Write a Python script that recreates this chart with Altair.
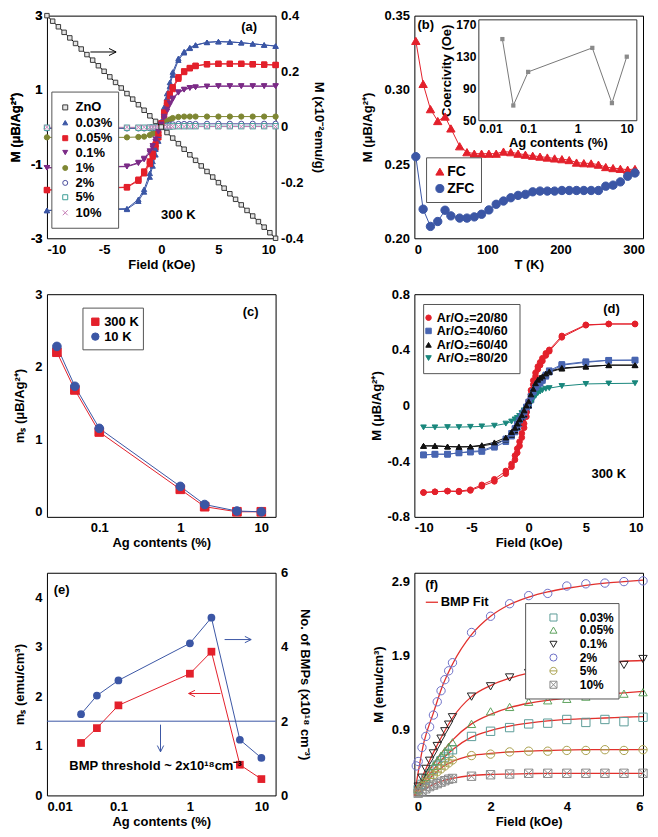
import altair as alt
import pandas as pd

FONT = "Liberation Sans"
W, H = 229, 223

RED = "#e3202b"
BLUE = "#3b56a5"
PURPLE = "#7b2b87"
OLIVE = "#7e8733"
NAVY = "#4c4f9e"
TEAL = "#3d9e96"
PINK = "#c47bb5"
D_BLUE = "#4865b1"
D_TEAL = "#19877c"
F_TEAL = "#5d9d99"
F_GREEN = "#5da25d"
F_BLUE = "#6d70c6"
F_OLIVE = "#a9a14e"
F_GREY = "#8c8c8c"
FIT_RED = "#e2302c"

XPATH = "M-1,-1L1,1M-1,1L1,-1"
CIRC_BAR = "M-1,0A1,1,0,1,0,1,0A1,1,0,1,0,-1,0M-1,0L1,0"
SQ_X = "M-1,-1L1,-1L1,1L-1,1ZM-1,-1L1,1M1,-1L-1,1"
ARROW = "M-1,-0.5L0,0L-1,0.5"
MINUS_FIX = "replace(datum.label, '\u2212', '-')"

# ---------------- data: panel (a)  (ascending branch, then descending branch for the strongest samples)
a_names = ["ZnO", "0.03%", "0.05%", "0.1%", "1%", "2%", "5%", "10%"]
a_field = [-10, -3, -2, -1.5, -1, -0.75, -0.5, -0.25, 0, 0.25, 0.5, 0.75, 1, 1.5, 2, 2.5, 3, 4, 5, 6, 7, 8, 9, 10]
a_m_003 = [-2.25, -2.22, -2.0, -1.75, -1.35, -1.05, -0.75, -0.38, 0.0, 0.4, 0.78, 1.1, 1.4, 1.8, 2.0, 2.12, 2.2, 2.28, 2.3, 2.29, 2.27, 2.24, 2.21, 2.18]
a_m_005 = [-1.7, -1.63, -1.45, -1.25, -1.0, -0.8, -0.56, -0.28, 0.0, 0.3, 0.58, 0.83, 1.02, 1.3, 1.48, 1.58, 1.64, 1.69, 1.7, 1.7, 1.7, 1.69, 1.68, 1.67]
a_m_01 = [-1.1, -1.07, -0.98, -0.88, -0.7, -0.57, -0.4, -0.2, 0.0, 0.22, 0.42, 0.6, 0.74, 0.92, 1.0, 1.05, 1.07, 1.09, 1.1, 1.1, 1.1, 1.1, 1.1, 1.1]
a_m_1 = [-0.28, -0.28, -0.27, -0.26, -0.22, -0.18, -0.13, -0.07, 0.0, 0.08, 0.15, 0.2, 0.24, 0.27, 0.28, 0.28, 0.28, 0.28, 0.28, 0.28, 0.28, 0.28, 0.28, 0.28]
a_m_2 = [-0.04, -0.04, -0.04, -0.04, -0.035, -0.03, -0.02, -0.01, 0.0, 0.02, 0.04, 0.06, 0.07, 0.08, 0.08, 0.08, 0.08, 0.085, 0.085, 0.085, 0.085, 0.085, 0.085, 0.085]
a_m_5 = [-0.02, -0.02, -0.02, -0.02, -0.015, -0.01, -0.01, -0.005, 0.0, 0.005, 0.01, 0.01, 0.015, 0.02, 0.02, 0.02, 0.02, 0.02, 0.02, 0.02, 0.02, 0.02, 0.02, 0.02]
a_m_10 = [-0.01, -0.01, -0.01, -0.01, -0.01, -0.005, -0.005, 0.0, 0.0, 0.0, 0.005, 0.005, 0.01, 0.01, 0.01, 0.01, 0.01, 0.01, 0.01, 0.01, 0.01, 0.01, 0.01, 0.01]
a_m_003_dn = [-2.25, -2.2, -1.95, -1.68, -1.25, -0.93, -0.6, -0.22, 0.15, 0.53, 0.9, 1.2, 1.48, 1.85, 2.03, 2.14, 2.21, 2.28, 2.3, 2.29, 2.27, 2.24, 2.21, 2.18]
a_m_005_dn = [-1.7, -1.62, -1.42, -1.2, -0.93, -0.72, -0.47, -0.18, 0.1, 0.39, 0.65, 0.89, 1.07, 1.34, 1.5, 1.59, 1.65, 1.69, 1.7, 1.7, 1.7, 1.69, 1.68, 1.67]
a_m_01_dn = [-1.1, -1.06, -0.96, -0.85, -0.65, -0.51, -0.33, -0.13, 0.07, 0.28, 0.47, 0.64, 0.77, 0.94, 1.01, 1.05, 1.07, 1.09, 1.1, 1.1, 1.1, 1.1, 1.1, 1.1]
a_zno_field = [-10, -9.5, -9, -8.5, -8, -7.5, -7, -6.5, -6, -5.5, -5, -4.5, -4, -3.5, -3, -2.5, -2, -1.5, -1, -0.5, 0,
               0.5, 1, 1.5, 2, 2.5, 3, 3.5, 4, 4.5, 5, 5.5, 6, 6.5, 7, 7.5, 8, 8.5, 9, 9.5, 10]
a_zno_m = [0.4, 0.38, 0.36, 0.34, 0.32, 0.3, 0.28, 0.26, 0.24, 0.22, 0.2, 0.18, 0.16, 0.14, 0.12, 0.1, 0.08, 0.06, 0.04, 0.02, 0.0,
           -0.02, -0.04, -0.06, -0.08, -0.1, -0.12, -0.14, -0.16, -0.18, -0.2, -0.22, -0.24, -0.26, -0.28, -0.3, -0.32, -0.34, -0.36, -0.38, -0.4]

# ---------------- data: panel (b)
b_names = ["FC", "ZFC"]
b_T = [2, 12, 22, 32, 42, 50, 62, 72, 82, 92, 102, 112, 122, 132, 142, 152, 162, 172, 182, 192, 202,
       212, 222, 232, 242, 252, 262, 272, 282, 292, 302]
b_fc = [0.333, 0.304, 0.287, 0.279, 0.282, 0.274, 0.262, 0.258, 0.257, 0.257, 0.257, 0.257, 0.2584, 0.258, 0.257, 0.2563,
        0.2556, 0.255, 0.2544, 0.2538, 0.2533, 0.2527, 0.251, 0.2506, 0.2504, 0.2496, 0.248, 0.2473, 0.2468, 0.2462, 0.2467]
b_zfc = [0.255, 0.2196, 0.208, 0.2113, 0.2189, 0.2151, 0.2136, 0.2136, 0.2144, 0.2162, 0.2191, 0.2229, 0.2251, 0.2273,
         0.2289, 0.2296, 0.2313, 0.2318, 0.2318, 0.2318, 0.2322, 0.2322, 0.2322, 0.2322, 0.2322, 0.2322, 0.2351, 0.2358,
         0.238, 0.2418, 0.244]
b_in_pct = [0.03, 0.05, 0.1, 2, 5, 10]
b_in_hc = [152, 69, 111, 141, 72, 130]

# ---------------- data: panel (c)
c_names = ["300 K", "10 K"]
c_pct = [0.03, 0.05, 0.1, 1, 2, 5, 10]
c_300 = [2.2, 1.68, 1.1, 0.31, 0.07, 0.0, 0.0]
c_10 = [2.28, 1.73, 1.15, 0.35, 0.1, 0.01, 0.0]

# ---------------- data: panel (d)
d_names = ["Ar/O\u2082=20/80", "Ar/O\u2082=40/60", "Ar/O\u2082=60/40", "Ar/O\u2082=80/20"]
d_field = [-9.2, -8.2, -7.1, -6.1, -5.1, -4.1, -3.0, -2.0, -1.5, -1.2, -1.0, -0.8, -0.6, -0.4, -0.2, 0.0,
           0.2, 0.4, 0.6, 0.8, 1.0, 1.2, 1.5, 1.8, 2.9, 5.0, 7.0, 9.3]
d_20 = [-0.625, -0.62, -0.615, -0.62, -0.61, -0.58, -0.545, -0.49, -0.44, -0.39, -0.34, -0.29, -0.23, -0.16, -0.08, 0.0,
        0.08, 0.15, 0.21, 0.26, 0.29, 0.32, 0.36, 0.39, 0.49, 0.577, 0.586, 0.586]
d_40 = [-0.355, -0.35, -0.35, -0.34, -0.335, -0.33, -0.30, -0.26, -0.22, -0.19, -0.16, -0.13, -0.10, -0.07, -0.035, 0.0,
        0.04, 0.08, 0.11, 0.14, 0.16, 0.18, 0.21, 0.24, 0.29, 0.31, 0.325, 0.326]
d_60 = [-0.29, -0.29, -0.295, -0.297, -0.297, -0.29, -0.275, -0.245, -0.21, -0.18, -0.155, -0.125, -0.095, -0.065, -0.03, 0.0,
        0.05, 0.1, 0.14, 0.17, 0.19, 0.2, 0.22, 0.24, 0.265, 0.28, 0.29, 0.29]
d_80 = [-0.157, -0.157, -0.155, -0.155, -0.153, -0.15, -0.145, -0.13, -0.115, -0.10, -0.09, -0.075, -0.055, -0.035, -0.015, 0.0,
        0.02, 0.05, 0.07, 0.09, 0.10, 0.11, 0.12, 0.125, 0.14, 0.155, 0.158, 0.16]
d_20_dn = [-0.625, -0.62, -0.615, -0.615, -0.605, -0.57, -0.53, -0.47, -0.42, -0.36, -0.31, -0.26, -0.2, -0.13, -0.05, 0.03,
           0.11, 0.18, 0.235, 0.28, 0.31, 0.34, 0.375, 0.4, 0.5, 0.58, 0.586, 0.586]
d_40_dn = [-0.355, -0.35, -0.35, -0.34, -0.33, -0.325, -0.29, -0.24, -0.2, -0.165, -0.135, -0.105, -0.075, -0.045, -0.01, 0.025,
           0.065, 0.1, 0.13, 0.155, 0.175, 0.195, 0.22, 0.25, 0.295, 0.315, 0.325, 0.326]
d_60_dn = [-0.29, -0.29, -0.295, -0.297, -0.295, -0.285, -0.265, -0.23, -0.19, -0.16, -0.13, -0.1, -0.07, -0.035, 0.0, 0.03,
           0.08, 0.12, 0.16, 0.185, 0.2, 0.21, 0.23, 0.245, 0.27, 0.28, 0.29, 0.29]

# ---------------- data: panel (e)
e_pct = [0.03, 0.05, 0.1, 1, 2, 5, 10]
e_ms = [1.06, 1.36, 1.82, 2.46, 2.905, 0.62, 0.33]
e_bmp = [2.19, 2.69, 3.10, 4.10, 4.79, 1.50, 1.01]
e_threshold = [2.0]

# ---------------- data: panel (f)
f_names = ["0.03%", "0.05%", "0.1%", "2%", "5%", "10%"]
f_field = [0.1, 0.2, 0.3, 0.4, 0.5, 0.6, 0.7, 0.8, 0.9, 1.0, 1.5, 2.0, 2.5, 3.0, 3.5, 4.0, 4.5, 5.0, 5.5, 6.0]
f_field_2 = [0.05, 0.1, 0.2, 0.3, 0.4, 0.5, 0.6, 0.7, 0.8, 0.9, 1.0, 1.5, 2.0, 2.5, 3.0, 3.5, 4.0, 4.5, 5.0, 5.5, 6.0]
f_m_003 = [0.08, 0.15, 0.22, 0.29, 0.35, 0.41, 0.47, 0.52, 0.57, 0.62, 0.80, 0.87, 0.92, 0.97, 0.98, 1.03, 0.99, 1.03, 1.00, 1.06]
f_m_005 = [0.09, 0.17, 0.25, 0.33, 0.40, 0.47, 0.54, 0.60, 0.66, 0.72, 0.97, 1.14, 1.20, 1.27, 1.29, 1.31, 1.34, 1.37, 1.38, 1.40]
f_m_01 = [0.12, 0.24, 0.36, 0.47, 0.57, 0.67, 0.77, 0.87, 0.96, 1.06, 1.34, 1.48, 1.60, 1.66, 1.71, 1.75, 1.78, 1.80, 1.77, 1.85]
f_m_2 = [0.40, 0.46, 0.65, 0.80, 0.93, 1.09, 1.27, 1.42, 1.57, 1.69, 1.80, 2.21, 2.43, 2.60, 2.71, 2.74, 2.84, 2.87, 2.88, 2.90, 2.91]
f_m_5 = [0.06, 0.12, 0.18, 0.23, 0.28, 0.32, 0.36, 0.40, 0.44, 0.48, 0.54, 0.56, 0.59, 0.60, 0.60, 0.61, 0.61, 0.62, 0.61, 0.62]
f_m_10 = [0.03, 0.06, 0.09, 0.12, 0.14, 0.16, 0.18, 0.20, 0.22, 0.23, 0.26, 0.28, 0.29, 0.30, 0.30, 0.30, 0.30, 0.30, 0.30, 0.30]
fit_field = [0, 0.25, 0.5, 0.75, 1, 1.5, 2, 2.5, 3, 3.5, 4, 4.5, 5, 5.5, 6]
fit_003 = [0, 0.18, 0.35, 0.5, 0.62, 0.79, 0.88, 0.94, 0.98, 1.01, 1.03, 1.04, 1.05, 1.06, 1.07]
fit_005 = [0, 0.22, 0.42, 0.6, 0.75, 0.97, 1.1, 1.19, 1.25, 1.29, 1.32, 1.35, 1.37, 1.39, 1.41]
fit_01 = [0, 0.3, 0.58, 0.83, 1.05, 1.34, 1.49, 1.59, 1.66, 1.71, 1.75, 1.78, 1.80, 1.82, 1.83]
fit_2 = [0, 0.72, 1.12, 1.5, 1.78, 2.18, 2.43, 2.59, 2.69, 2.76, 2.81, 2.85, 2.88, 2.90, 2.92]
fit_5 = [0, 0.15, 0.28, 0.39, 0.46, 0.54, 0.57, 0.59, 0.6, 0.61, 0.615, 0.62, 0.62, 0.62, 0.625]
fit_10 = [0, 0.08, 0.15, 0.2, 0.23, 0.27, 0.285, 0.29, 0.295, 0.3, 0.3, 0.3, 0.3, 0.3, 0.3]

# ---------------- legend placement (in each panel's data units)
leg_a_box = [-9.57, -3.73, 0.94, -2.73]
leg_a_sym_x, leg_a_lab_x = -8.40, -7.50
leg_a_rows = [0.527, 0.115, -0.303, -0.689, -1.107, -1.508, -1.894, -2.312]
leg_b_box = [16.7, 91.9, 0.2542, 0.2241]
leg_b_sym_x, leg_b_lab_x = 34.9, 44.9
leg_b_rows = [0.2449, 0.2335]
leg_c_box = [0.0629, 0.3506, 2.808, 2.233]
leg_c_sym_x, leg_c_lab_x = 0.0894, 0.1149
leg_c_rows = [2.620, 2.415]
leg_d_box = [-9.19, -0.76, 0.726, 0.229]
leg_d_sym_x, leg_d_lab_x = -8.76, -8.05
leg_d_rows = [0.631, 0.536, 0.436, 0.341]
leg_f_box = [2.92, 5.37, 2.602, 1.308]
leg_f_sym_x, leg_f_lab_x = 3.65, 4.34
leg_f_rows = [2.413, 2.242, 2.049, 1.870, 1.689, 1.501]


# ---------------- helpers
def ax(title, values, fmt=None, orient=None, lpad=5, tpad=5, lsize=13, tsize=13, **kw):
    d = dict(title=title, values=values, grid=False, ticks=False, domain=False,
             labelFont=FONT, labelFontSize=lsize, labelFontWeight="bold", labelColor="black",
             titleFont=FONT, titleFontSize=tsize, titleFontWeight="bold", titleColor="black",
             labelPadding=lpad, titlePadding=tpad, labelExpr=MINUS_FIX, labelOverlap=False)
    if fmt is not None:
        d["format"] = fmt
    if orient is not None:
        d["orient"] = orient
    d.update(kw)
    return alt.Axis(**d)


def long_df(names, xs_list, ys_list, xcol, ycol, br="up"):
    rows = []
    for n, xs, ys in zip(names, xs_list, ys_list):
        for xv, yv in zip(xs, ys):
            rows.append({xcol: xv, ycol: yv, "s": n, "g": n, "br": br})
    return pd.DataFrame(rows)


def texts(df, x, y, size=13, align="center", color="black"):
    return alt.Chart(df).mark_text(font=FONT, fontSize=size, fontWeight="bold", color=color,
                                   align=align, baseline="middle").encode(x=x, y=y, text="t:N")


def legend_layers(names, box, sym_x, lab_x, rows, xcol, ycol, x, y, enc, size, lsize=13, filled=None):
    box_df = pd.DataFrame({xcol: [box[0]], "bx2": [box[1]], ycol: [box[2]], "by2": [box[3]]})
    frame = alt.Chart(box_df).mark_rect(fill="white", stroke="#555555", strokeWidth=1).encode(
        x=x, x2="bx2:Q", y=y, y2="by2:Q")
    sym_df = pd.DataFrame({xcol: [sym_x] * len(names), ycol: rows, "s": names})
    pk = dict(opacity=1, strokeWidth=1, size=size)
    if filled is not None:
        pk["filled"] = filled
    syms = alt.Chart(sym_df).mark_point(**pk).encode(x=x, y=y, **enc)
    lab_df = pd.DataFrame({xcol: [lab_x] * len(names), ycol: rows, "t": names})
    labs = texts(lab_df, x, y, size=lsize, align="left")
    return [frame, syms, labs]


XL, XT = 5, 2   # bottom-axis label / title padding

# ================= panel (a)
df_a = pd.concat([
    long_df(a_names[1:], [a_field] * 7, [a_m_003, a_m_005, a_m_01, a_m_1, a_m_2, a_m_5, a_m_10], "field", "m"),
    long_df(a_names[1:4], [a_field] * 3, [a_m_003_dn, a_m_005_dn, a_m_01_dn], "field", "m", br="dn"),
], ignore_index=True)
df_a_zno = pd.DataFrame({"field": a_zno_field, "mr": a_zno_m, "s": "ZnO"})
a_fills = ["#e4e4e4", BLUE, RED, PURPLE, OLIVE, "white", "white", "white"]
a_strokes = ["#3a3a3a", BLUE, RED, PURPLE, OLIVE, NAVY, TEAL, PINK]
a_shapes = ["square", "triangle-up", "square", "triangle-down", "circle", "circle", "square", XPATH]
a_enc = dict(fill=alt.Fill("s:N", scale=alt.Scale(domain=a_names, range=a_fills), legend=None),
             stroke=alt.Stroke("s:N", scale=alt.Scale(domain=a_names, range=a_strokes), legend=None),
             shape=alt.Shape("s:N", scale=alt.Scale(domain=a_names, range=a_shapes), legend=None))
xa = alt.X("field:Q", scale=alt.Scale(domain=[-10, 10], nice=False, zero=False),
           axis=ax("Field (kOe)", [-10, -5, 0, 5, 10], lpad=XL, tpad=XT))
ya = alt.Y("m:Q", scale=alt.Scale(domain=[-3, 3], nice=False, zero=False),
           axis=ax("M (\u03bcB/Ag\u00b2\u207a)", [-3, -1, 1, 3], tpad=8))
ya_r = alt.Y("mr:Q", scale=alt.Scale(domain=[-0.4, 0.4], nice=False, zero=False),
             axis=ax("M (x10\u207b\u00b2emu/g)", [-0.4, -0.2, 0, 0.2, 0.4], fmt="~g", orient="right", tpad=9))

a_lines = alt.Chart(df_a).mark_line(strokeWidth=1).encode(
    x=xa, y=ya, detail="br:N",
    color=alt.Color("g:N", scale=alt.Scale(domain=a_names, range=a_strokes), legend=None))
a_pts = alt.Chart(df_a).mark_point(opacity=1, strokeWidth=1, size=28).encode(x=xa, y=ya, **a_enc)
a_txt = texts(pd.DataFrame({"field": [7.68, 1.49], "m": [2.7, -2.36], "t": ["(a)", "300 K"]}), xa, ya)
a_arrow_df = pd.DataFrame({"field": [-6.2], "field2": [-3.95], "m": [2.02], "tip": [-3.95]})
a_arrow_line = alt.Chart(a_arrow_df).mark_rule(color="black", strokeWidth=1).encode(x=xa, x2="field2:Q", y=ya)
a_arrow_head = alt.Chart(a_arrow_df).mark_point(shape=ARROW, size=200, filled=False, color="black",
                                                 strokeWidth=1, opacity=1).encode(x=alt.X("tip:Q"), y=ya)
a_zline = alt.Chart(df_a_zno).mark_line(color="black", strokeWidth=1).encode(x=xa, y=ya_r)
a_zpts = alt.Chart(df_a_zno).mark_point(opacity=1, size=20, strokeWidth=1).encode(x=xa, y=ya_r, **a_enc)
a_leg = legend_layers(a_names, leg_a_box, leg_a_sym_x, leg_a_lab_x, leg_a_rows, "field", "m", xa, ya, a_enc, 25)
panel_a = alt.layer(
    alt.layer(a_lines, a_pts, a_txt, a_arrow_line, a_arrow_head),
    alt.layer(a_zline, a_zpts),
    alt.layer(*a_leg),
).resolve_scale(y="independent").properties(width=W, height=H)

# ================= panel (b)
df_b = long_df(b_names, [b_T, b_T], [b_fc, b_zfc], "T", "M")
b_cols = [RED, BLUE]
b_enc = dict(fill=alt.Fill("s:N", scale=alt.Scale(domain=b_names, range=b_cols), legend=None),
             stroke=alt.Stroke("s:N", scale=alt.Scale(domain=b_names, range=b_cols), legend=None),
             shape=alt.Shape("s:N", scale=alt.Scale(domain=b_names, range=["triangle-up", "circle"]), legend=None))
xb = alt.X("T:Q", scale=alt.Scale(domain=[0, 313], nice=False), axis=ax("T (K)", [0, 100, 200, 300], lpad=XL, tpad=XT))
yb = alt.Y("M:Q", scale=alt.Scale(domain=[0.2, 0.35], nice=False, zero=False),
           axis=ax("M (\u03bcB/Ag\u00b2\u207a)", [0.2, 0.25, 0.3, 0.35], fmt=".2f", tpad=10))
b_lines = alt.Chart(df_b).mark_line(strokeWidth=1).encode(
    x=xb, y=yb, color=alt.Color("g:N", scale=alt.Scale(domain=b_names, range=b_cols), legend=None))
b_pts = alt.Chart(df_b).mark_point(opacity=1, strokeWidth=1, size=70).encode(x=xb, y=yb, **b_enc)
b_txt = texts(pd.DataFrame({"T": [15.7], "M": [0.344], "t": ["(b)"]}), xb, yb)
b_leg = legend_layers(b_names, leg_b_box, leg_b_sym_x, leg_b_lab_x, leg_b_rows, "T", "M", xb, yb, b_enc, 65, lsize=14)

in_x0, in_x1 = W * 0.282, W * 0.973
in_y0, in_y1 = H * 0.472, H * 0.019
xbi = alt.X("pct:Q", scale=alt.Scale(type="log", domain=[0.01, 16], range=[in_x0, in_x1], nice=False),
            axis=ax("Ag contents (%)", [0.01, 0.1, 1, 10], fmt="~g", orient="bottom", offset=-(H - in_y0),
                    lsize=12, tsize=13, lpad=3, tpad=2))
ybi = alt.Y("hc:Q", scale=alt.Scale(domain=[50, 176], range=[in_y0, in_y1], nice=False, zero=False),
            axis=ax("Coercivity (Oe)", [50, 90, 130, 170], orient="left", offset=-in_x0,
                    lsize=12, tsize=13, lpad=3, tpad=2))
df_bi = pd.DataFrame({"pct": b_in_pct, "hc": b_in_hc})
bi_frame = alt.Chart(pd.DataFrame({"pct": [0.01], "pct2": [16], "hc": [50], "hc2": [176]})).mark_rect(
    fill="white", stroke="#333333", strokeWidth=1).encode(x=xbi, x2="pct2:Q", y=ybi, y2="hc2:Q")
bi_line = alt.Chart(df_bi).mark_line(color="#777777", strokeWidth=1).encode(x=xbi, y=ybi)
bi_pts = alt.Chart(df_bi).mark_point(shape="square", size=18, filled=True, color="#8a8a8a", opacity=1).encode(x=xbi, y=ybi)
panel_b = alt.layer(
    alt.layer(b_lines, b_pts, b_txt, *b_leg),
    alt.layer(bi_frame, bi_line, bi_pts),
).resolve_scale(x="independent", y="independent").properties(width=W, height=H)

# ================= panel (c)
df_c = long_df(c_names, [c_pct, c_pct], [c_300, c_10], "pct", "ms")
c_cols = [RED, BLUE]
c_enc = dict(fill=alt.Fill("s:N", scale=alt.Scale(domain=c_names, range=c_cols), legend=None),
             stroke=alt.Stroke("s:N", scale=alt.Scale(domain=c_names, range=c_cols), legend=None),
             shape=alt.Shape("s:N", scale=alt.Scale(domain=c_names, range=["square", "circle"]), legend=None))
xc = alt.X("pct:Q", scale=alt.Scale(type="log", domain=[0.0226, 15], nice=False),
           axis=ax("Ag contents (%)", [0.1, 1, 10], fmt="~g", lpad=XL, tpad=XT))
yc = alt.Y("ms:Q", scale=alt.Scale(domain=[-0.07, 3], nice=False, zero=False),
           axis=ax("m\u209b (\u03bcB/Ag\u00b2\u207a)", [0, 1, 2, 3], tpad=8))
c_lines = alt.Chart(df_c).mark_line(strokeWidth=1).encode(
    x=xc, y=yc, color=alt.Color("g:N", scale=alt.Scale(domain=c_names, range=c_cols), legend=None))
c_pts = alt.Chart(df_c).mark_point(opacity=1, strokeWidth=1, size=75).encode(x=xc, y=yc, **c_enc)
c_txt = texts(pd.DataFrame({"pct": [7.4], "ms": [2.75], "t": ["(c)"]}), xc, yc)
c_leg = legend_layers(c_names, leg_c_box, leg_c_sym_x, leg_c_lab_x, leg_c_rows, "pct", "ms", xc, yc, c_enc, 55)
panel_c = alt.layer(c_lines, c_pts, c_txt, *c_leg).properties(width=W, height=H)

# ================= panel (d)
df_d = pd.concat([
    long_df(d_names, [d_field] * 4, [d_20, d_40, d_60, d_80], "field", "m"),
    long_df(d_names[:3], [d_field] * 3, [d_20_dn, d_40_dn, d_60_dn], "field", "m", br="dn"),
], ignore_index=True)
d_cols = [RED, D_BLUE, "#111111", D_TEAL]
d_enc = dict(fill=alt.Fill("s:N", scale=alt.Scale(domain=d_names, range=d_cols), legend=None),
             stroke=alt.Stroke("s:N", scale=alt.Scale(domain=d_names, range=d_cols), legend=None),
             shape=alt.Shape("s:N", scale=alt.Scale(domain=d_names,
                                                    range=["circle", "square", "triangle-up", "triangle-down"]),
                             legend=None))
xd = alt.X("field:Q", scale=alt.Scale(domain=[-10, 10], nice=False, zero=False),
           axis=ax("Field (kOe)", [-10, -5, 0, 5, 10], lpad=XL, tpad=XT))
yd = alt.Y("m:Q", scale=alt.Scale(domain=[-0.8, 0.8], nice=False, zero=False),
           axis=ax("M (\u03bcB/Ag\u00b2\u207a)", [-0.8, -0.4, 0, 0.4, 0.8], fmt="~g", tpad=4))
d_lines = alt.Chart(df_d).mark_line(strokeWidth=1).encode(
    x=xd, y=yd, detail="br:N",
    color=alt.Color("g:N", scale=alt.Scale(domain=d_names, range=d_cols), legend=None))
d_pts = alt.Chart(df_d).mark_point(opacity=1, strokeWidth=1, size=32).encode(x=xd, y=yd, **d_enc)
d_txt = texts(pd.DataFrame({"field": [7.25, 7.0], "m": [0.69, -0.49], "t": ["(d)", "300 K"]}), xd, yd)
d_leg = legend_layers(d_names, leg_d_box, leg_d_sym_x, leg_d_lab_x, leg_d_rows, "field", "m", xd, yd, d_enc, 30,
                      lsize=12.5)
panel_d = alt.layer(d_lines, d_pts, d_txt, *d_leg).properties(width=W, height=H)

# ================= panel (e)
df_e = pd.DataFrame({"pct": e_pct, "ms": e_ms, "bmp": e_bmp})
xe = alt.X("pct:Q", scale=alt.Scale(type="log", domain=[0.01, 15.8], nice=False),
           axis=ax("Ag contents (%)", [0.01, 0.1, 1, 10], fmt="~g", lpad=XL, tpad=XT))
ye = alt.Y("ms:Q", scale=alt.Scale(domain=[0, 4.5], nice=False, zero=False),
           axis=ax("m\u209b (emu/cm\u00b3)", [0, 1, 2, 3, 4], tpad=8))
ye_r = alt.Y("bmp:Q", scale=alt.Scale(domain=[0, 6], nice=False, zero=False),
             axis=ax("No. of BMPs (x10\u00b9\u2078 cm\u207b\u00b3)", [0, 2, 4, 6], orient="right", tpad=10))
e_red_line = alt.Chart(df_e).mark_line(color=RED, strokeWidth=1).encode(x=xe, y=ye)
e_red_pts = alt.Chart(df_e).mark_point(shape="square", size=60, filled=True, color=RED, opacity=1).encode(x=xe, y=ye)
e_harrows = pd.DataFrame({"pct": [3.06, 0.96], "pct2": [7.2, 2.67], "ms": [3.15, 2.06],
                          "tip": [7.2, 0.96], "ang": [0, 180], "c": ["b", "r"]})
e_arrow_col = alt.Color("c:N", scale=alt.Scale(domain=["b", "r"], range=[BLUE, RED]), legend=None)
e_h_lines = alt.Chart(e_harrows).mark_rule(strokeWidth=1).encode(x=xe, x2="pct2:Q", y=ye, color=e_arrow_col)
e_h_heads = alt.Chart(e_harrows).mark_point(shape=ARROW, size=160, filled=False, strokeWidth=1, opacity=1).encode(
    x=alt.X("tip:Q"), y=ye, angle=alt.Angle("ang:Q", scale=None), color=e_arrow_col)
e_varrow = pd.DataFrame({"pct": [0.388], "ms": [1.43], "ms2": [0.88], "tip": [0.88]})
e_v_line = alt.Chart(e_varrow).mark_rule(strokeWidth=1, color=BLUE).encode(x=xe, y=ye, y2="ms2:Q")
e_v_head = alt.Chart(e_varrow).mark_point(shape=ARROW, size=160, filled=False, strokeWidth=1, opacity=1,
                                          color=BLUE, angle=90).encode(x=xe, y=alt.Y("tip:Q"))
e_txt = texts(pd.DataFrame({"pct": [0.0161, 0.33], "ms": [4.15, 0.6],
                            "t": ["(e)", "BMP threshold ~ 2x10\u00b9\u2078cm\u207b\u00b3"]}), xe, ye)
e_thr = alt.Chart(pd.DataFrame({"bmp": e_threshold})).mark_rule(color=BLUE, strokeWidth=1).encode(y=ye_r)
e_blue_line = alt.Chart(df_e).mark_line(color=BLUE, strokeWidth=1).encode(x=xe, y=ye_r)
e_blue_pts = alt.Chart(df_e).mark_point(shape="circle", size=60, filled=True, color=BLUE, opacity=1).encode(x=xe, y=ye_r)
panel_e = alt.layer(
    alt.layer(e_red_line, e_red_pts, e_h_lines, e_h_heads, e_v_line, e_v_head, e_txt),
    alt.layer(e_thr, e_blue_line, e_blue_pts),
).resolve_scale(y="independent").properties(width=W, height=H)

# ================= panel (f)
df_f = long_df(f_names, [f_field, f_field, f_field, f_field_2, f_field, f_field],
               [f_m_003, f_m_005, f_m_01, f_m_2, f_m_5, f_m_10], "field", "m")
df_fit = long_df(f_names, [fit_field] * 6, [fit_003, fit_005, fit_01, fit_2, fit_5, fit_10], "field", "m")
f_cols = [F_TEAL, F_GREEN, "#222222", F_BLUE, F_OLIVE, F_GREY]
f_shapes = ["square", "triangle-up", "triangle-down", "circle", CIRC_BAR, SQ_X]
f_enc = dict(stroke=alt.Stroke("s:N", scale=alt.Scale(domain=f_names, range=f_cols), legend=None),
             shape=alt.Shape("s:N", scale=alt.Scale(domain=f_names, range=f_shapes), legend=None))
xf = alt.X("field:Q", scale=alt.Scale(domain=[0, 6], nice=False),
           axis=ax("Field (kOe)", [0, 2, 4, 6], lpad=XL, tpad=XT))
yf = alt.Y("m:Q", scale=alt.Scale(domain=[0, 3.02], nice=False, zero=False),
           axis=ax("M (emu/cm\u00b3)", [0.9, 1.9, 2.9], fmt=".1f", tpad=6))
f_fit = alt.Chart(df_fit).mark_line(strokeWidth=1.3, interpolate="monotone").encode(
    x=xf, y=yf, color=alt.Color("g:N", scale=alt.Scale(domain=f_names, range=[FIT_RED] * 6), legend=None))
f_pts = alt.Chart(df_f).mark_point(opacity=1, strokeWidth=1, size=70, filled=False).encode(x=xf, y=yf, **f_enc)
f_key = alt.Chart(pd.DataFrame({"field": [0.3], "field2": [0.62], "m": [2.62]})).mark_rule(
    color=FIT_RED, strokeWidth=1.3).encode(x=xf, x2="field2:Q", y=yf)
f_txt = texts(pd.DataFrame({"field": [0.455], "m": [2.85], "t": ["(f)"]}), xf, yf)
f_txt2 = texts(pd.DataFrame({"field": [0.69], "m": [2.62], "t": ["BMP Fit"]}), xf, yf, align="left")
f_leg = legend_layers(f_names, leg_f_box, leg_f_sym_x, leg_f_lab_x, leg_f_rows, "field", "m", xf, yf, f_enc, 50,
                      lsize=12, filled=False)
panel_f = alt.layer(f_fit, f_pts, f_key, f_txt, f_txt2, *f_leg).properties(width=W, height=H)

# ================= assemble
chart = alt.concat(panel_a, panel_b, panel_c, panel_d, panel_e, panel_f, columns=2,
                   spacing={"row": 56, "column": 139}, bounds="flush")
chart = chart.resolve_scale(x="independent", y="independent", color="independent", fill="independent",
                            stroke="independent", shape="independent")
chart = chart.properties(padding={"left": 0, "top": 0, "right": 0, "bottom": 0},
                         autosize=alt.AutoSizeParams(type="pad"))
chart = chart.configure(font=FONT).configure_view(stroke="black", strokeWidth=1)

chart.save("out.html", embed_options={"renderer": "svg", "actions": False})
